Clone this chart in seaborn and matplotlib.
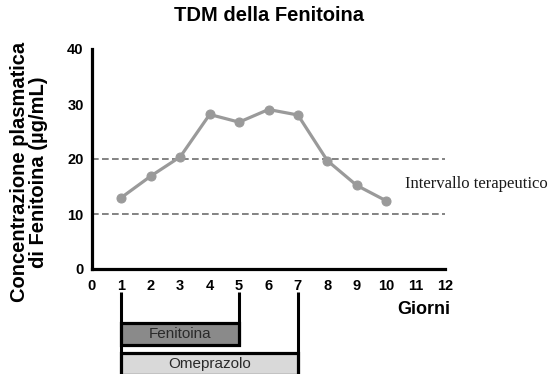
import matplotlib
matplotlib.use("Agg")
import matplotlib.pyplot as plt
import seaborn as sns
import pandas as pd

# --- DATA ---
giorni = [1, 2, 3, 4, 5, 6, 7, 8, 9, 10]
concentrazione = [13.0, 16.9, 20.4, 28.1, 26.7, 29.0, 28.0, 19.7, 15.2, 12.4]
intervallo = [10, 20]  # limiti terapeutici
farmaci = ["Fenitoina", "Omeprazolo"]
inizio = [1, 1]
fine = [5, 7]
colori_farmaci = ["#8a8a8a", "#d9d9d9"]
x_ticks = list(range(0, 13))
y_ticks = [0, 10, 20, 30, 40]

df = pd.DataFrame({"Giorni": giorni, "Conc": concentrazione})

sns.set_theme(style="white")
plt.rcParams["font.family"] = ["Liberation Sans", "DejaVu Sans"]
plt.rcParams["text.color"] = "black"
plt.rcParams["xtick.color"] = "black"
plt.rcParams["ytick.color"] = "black"

fig = plt.figure(figsize=(5.55, 3.74), dpi=100)
W, H = 555, 374
ax = fig.add_axes([92 / W, 1 - 269 / H, (445 - 92) / W, (269 - 49) / H])
ax2 = fig.add_axes([92 / W, 0, (445 - 92) / W, 1 - 292 / H], sharex=ax)

# --- main line ---
sns.lineplot(data=df, x="Giorni", y="Conc", ax=ax, color="#9a9a9a",
             linewidth=2.3, marker="o", markersize=6.5,
             markeredgecolor="#9a9a9a", zorder=3)
for lim in intervallo:
    ax.axhline(lim, color="#6e6e6e", linestyle=(0, (4, 2)),
               linewidth=1.2, zorder=2)

ax.set_xlim(0, 12)
ax.set_ylim(0, 40)
ax.set_xticks(x_ticks)
ax.set_yticks(y_ticks)
ax.set_xlabel("")
ax.set_ylabel("")
for s in ["top", "right"]:
    ax.spines[s].set_visible(False)
for s in ["left", "bottom"]:
    ax.spines[s].set_linewidth(2.3)
    ax.spines[s].set_color("black")
ax.tick_params(axis="both", direction="out", length=5, width=2,
               color="black", labelcolor="black", labelsize=10.5, pad=1)
for lab in ax.get_xticklabels() + ax.get_yticklabels():
    lab.set_fontweight("bold")
ax.tick_params(axis="x", pad=2)

ax.set_title("TDM della Fenitoina", fontsize=14.5, fontweight="bold", pad=20,
             color="black")
ax.text(10.65, 15.45, "Intervallo terapeutico", family="Liberation Serif",
        fontsize=12, va="center", ha="left", color="#1a1a1a", clip_on=False)

fig.text(424 / W, 1 - 310 / H, "Giorni", fontsize=13, fontweight="bold",
         ha="center", va="center", color="black")
fig.text(29 / W, 1 - 172 / H, "Concentrazione plasmatica\ndi Fenitoina (µg/mL)",
         rotation=90, fontsize=14.5, fontweight="bold", ha="center",
         va="center", multialignment="center", linespacing=1.05,
         color="black")

# --- drug administration bars ---
pos = [0, 1]
ax2.barh(pos, [f - i for i, f in zip(inizio, fine)], left=inizio, height=0.72,
         color=colori_farmaci, edgecolor="black", linewidth=2.3, zorder=2)
for p, i, f, name in zip(pos, inizio, fine, farmaci):
    ax2.text((i + f) / 2, p, name, ha="center", va="center", fontsize=11,
             color="#2a2a2a", zorder=3)
ax2.set_ylim(1.33, -1.4)
ax2.vlines(inizio[0], -1.4, 1.33, color="black", linewidth=2.2, zorder=1)
ax2.vlines(fine[0], -1.4, pos[0] + 0.36, color="black", linewidth=2.2, zorder=1)
ax2.vlines(fine[1], -1.4, 1.33, color="black", linewidth=2.2, zorder=1)
ax2.axis("off")

fig.savefig("out.png", dpi=100)
